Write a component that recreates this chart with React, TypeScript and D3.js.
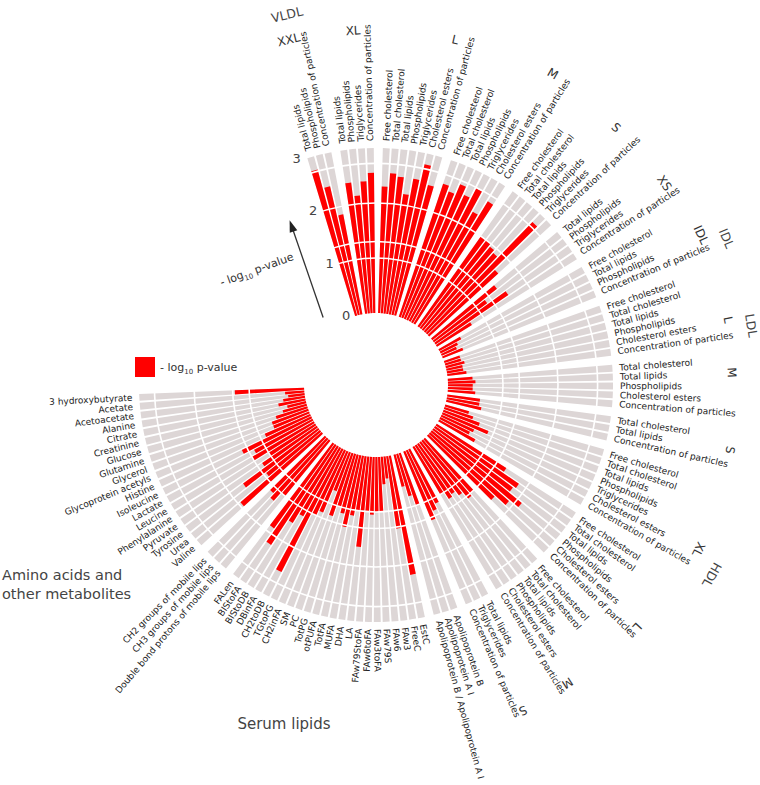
import React, { useEffect, useRef } from "react";
import * as d3 from "d3";

// ---- data: -log10 p-values, clockwise from the top ----
const vldlXXLLabels = ["Total lipids", "Phospholipids", "Concentration of particles"];
const vldlXXLValues = [2.75, 2.4, 1.85];
const vldlXLLabels = ["Total lipids", "Phospholipids", "Triglycerides", "Concentration of particles"];
const vldlXLValues = [2.4, 2.15, 2.4, 2.55];
const vldlLLabels = ["Free cholesterol", "Total cholesterol", "Total lipids", "Phospholipids", "Triglycerides", "Cholesterol esters", "Concentration of particles"];
const vldlLValues = [2.3, 2.55, 2.5, 2.2, 2.5, 2.8, 2.45];
const vldlMLabels = ["Free cholesterol", "Total cholesterol", "Total lipids", "Phospholipids", "Triglycerides", "Cholesterol esters", "Concentration of particles"];
const vldlMValues = [2.55, 2.45, 2.65, 2.5, 2.7, 2.3, 2.6];
const vldlSLabels = ["Free cholesterol", "Total cholesterol", "Total lipids", "Phospholipids", "Triglycerides", "Concentration of particles"];
const vldlSValues = [2.0, 2.0, 1.95, 1.9, 2.8, 1.7];
const vldlXSLabels = ["Total lipids", "Phospholipids", "Triglycerides", "Concentration of particles"];
const vldlXSValues = [1.5, 1.2, 1.6, 0.75];
const idlLabels = ["Free cholesterol", "Total lipids", "Phospholipids", "Concentration of particles"];
const idlValues = [0.45, 0.35, 0.3, 0.4];
const ldlLLabels = ["Free cholesterol", "Total cholesterol", "Total lipids", "Phospholipids", "Cholesterol esters", "Concentration of particles"];
const ldlLValues = [0.3, 0.3, 0.35, 0.3, 0.3, 0.35];
const ldlMLabels = ["Total cholesterol", "Total lipids", "Phospholipids", "Cholesterol esters", "Concentration of particles"];
const ldlMValues = [0.45, 0.5, 0.45, 0.45, 0.5];
const ldlSLabels = ["Total cholesterol", "Total lipids", "Concentration of particles"];
const ldlSValues = [0.6, 0.6, 0.65];
const hdlXLLabels = ["Free cholesterol", "Total cholesterol", "Total lipids", "Phospholipids", "Triglycerides", "Cholesterol esters", "Concentration of particles"];
const hdlXLValues = [0.45, 0.55, 0.7, 0.9, 0.65, 0.6, 0.75];
const hdlLLabels = ["Free cholesterol", "Total cholesterol", "Total lipids", "Phospholipids", "Cholesterol esters", "Concentration of particles"];
const hdlLValues = [1.5, 1.85, 1.8, 2.1, 1.9, 1.65];
const hdlMLabels = ["Free cholesterol", "Total cholesterol", "Total lipids", "Phospholipids", "Cholesterol esters", "Concentration of particles"];
const hdlMValues = [1.3, 1.35, 1.2, 1.1, 1.15, 1.0];
const hdlSLabels = ["Total lipids", "Triglycerides", "Concentration of particles"];
const hdlSValues = [1.1, 1.2, 1.35];
const apoLabels = ["Apolipoprotein B", "Apolipoprotein A I", "Apolipoprotein B / Apolipoprotein A I"];
const apoValues = [1.0, 0.8, 0.6];
const serumLabels = ["EstC", "FreeC", "FAw3", "FAw6", "FAw79S", "FAw3toFA", "FAw6toFA", "FAw79StoFA", "LA", "DHA", "MUFA", "TotFA", "otPUFA", "TotPG", "PC", "SM", "CH2inFA", "TGtoPG", "CH2toDB", "DBinFA", "BIStoDB", "BIStoFA", "FALen"];
const serumValues = [2.2, 1.33, 0.4, 0.5, 1.0, 1.0, 1.05, 1.0, 1.65, 1.0, 1.1, 1.33, 1.1, 1.0, 1.2, 0.75, 1.2, 1.3, 2.5, 1.42, 1.62, 2.17, 1.89];
const mobileLabels = ["Double bond protons of mobile lips", "CH3 groups of mobile lips", "CH2 groups of mobile lips"];
const mobileValues = [1.3, 1.5, 1.4];
const aminoLabels = ["Valine", "Urea", "Tyrosine", "Pyruvate", "Phenylalanine", "Leucine", "Lactate", "Isoleucine", "Histine", "Glycoprotein acetyls", "Glycerol", "Glutamine", "Glucose", "Creatinine", "Citrate", "Alanine", "Acetoacetate", "Acetate", "3 hydroxybutyrate"];
const aminoValues = [1.95, 1.25, 1.7, 1.2, 1.0, 1.3, 1.2, 1.4, 0.9, 0.7, 0.7, 0.6, 0.45, 0.35, 0.5, 0.4, 0.3, 0.35, 1.26];

const ticks = [0, 1, 2, 3];
const rings = [1, 1.301, 2, 2.72];

const subgroups = [
  { major: "VLDL", name: "XXL", labels: vldlXXLLabels, values: vldlXXLValues },
  { major: "VLDL", name: "XL", labels: vldlXLLabels, values: vldlXLValues },
  { major: "VLDL", name: "L", labels: vldlLLabels, values: vldlLValues },
  { major: "VLDL", name: "M", labels: vldlMLabels, values: vldlMValues },
  { major: "VLDL", name: "S", labels: vldlSLabels, values: vldlSValues },
  { major: "VLDL", name: "XS", labels: vldlXSLabels, values: vldlXSValues },
  { major: "IDL", name: "IDL", labels: idlLabels, values: idlValues },
  { major: "LDL", name: "L", labels: ldlLLabels, values: ldlLValues },
  { major: "LDL", name: "M", labels: ldlMLabels, values: ldlMValues },
  { major: "LDL", name: "S", labels: ldlSLabels, values: ldlSValues },
  { major: "HDL", name: "XL", labels: hdlXLLabels, values: hdlXLValues },
  { major: "HDL", name: "L", labels: hdlLLabels, values: hdlLValues },
  { major: "HDL", name: "M", labels: hdlMLabels, values: hdlMValues },
  { major: "HDL", name: "S", labels: hdlSLabels, values: hdlSValues },
  { major: "Apo", name: "", labels: apoLabels, values: apoValues },
  { major: "Serum", name: "", labels: serumLabels, values: serumValues },
  { major: "Mobile", name: "", labels: mobileLabels, values: mobileValues },
  { major: "Amino", name: "", labels: aminoLabels, values: aminoValues },
];

// label placement for sub group / group names: [angle deg, radius]
const subLabelPlace: Record<string, [number, number]> = {
  "VLDL XXL": [-14.2, 356],
  "VLDL XL": [-3.7, 355],
  "VLDL L": [12.9, 354],
  "VLDL M": [29.6, 358],
  "VLDL S": [43, 352],
  "VLDL XS": [55, 352],
  "IDL IDL": [65.2, 358],
  "LDL L": [79.5, 358],
  "LDL M": [88, 356],
  "LDL S": [100.4, 360],
  "HDL XL": [117, 362],
  "HDL L": [132.8, 356],
  "HDL M": [147.3, 354],
  "HDL S": [155.7, 357],
};
const majorLabelPlace: Record<string, [number, number]> = {
  VLDL: [-13.5, 381],
  IDL: [67.3, 380],
  LDL: [81, 380],
  HDL: [119.5, 386],
};

const W = 760;
const H = 785;
const CX = 376;
const CY = 385;
const FIRST_ANGLE = -16;
const LAST_ANGLE = 267;
const GAP = 0.8;

export default function App() {
  const ref = useRef<SVGSVGElement>(null);

  useEffect(() => {
    const svg = d3.select(ref.current);
    svg.selectAll("*").remove();

    // slot positions
    const bars: { label: string; value: number; pos: number; gi: number }[] = [];
    let k = 0;
    subgroups.forEach((g, gi) => {
      if (gi > 0) k += GAP;
      g.labels.forEach((label, i) => {
        bars.push({ label, value: g.values[i], pos: k, gi });
        k += 1;
      });
    });
    const lastPos = bars[bars.length - 1].pos;
    const angle = d3.scaleLinear().domain([0, lastPos]).range([FIRST_ANGLE, LAST_ANGLE]);
    const step = (LAST_ANGLE - FIRST_ANGLE) / lastPos;
    const barW = step * 0.78;
    const r = d3.scaleLinear().domain([0, 3]).range([72, 237]);
    const rad = (d: number) => (d * Math.PI) / 180;
    const polar = (a: number, rr: number): [number, number] => [
      CX + rr * Math.sin(rad(a)),
      CY - rr * Math.cos(rad(a)),
    ];

    const g = svg.append("g").attr("transform", `translate(${CX},${CY})`);

    const arc = d3.arc<any>();
    // gray background bars
    g.selectAll(".bg")
      .data(bars)
      .enter()
      .append("path")
      .attr("d", (d) =>
        arc({
          innerRadius: r(0),
          outerRadius: r(3),
          startAngle: rad(angle(d.pos) - barW / 2),
          endAngle: rad(angle(d.pos) + barW / 2),
        })
      )
      .attr("fill", "#ddd6d6");

    // red bars
    g.selectAll(".bar")
      .data(bars)
      .enter()
      .append("path")
      .attr("d", (d) =>
        arc({
          innerRadius: r(0),
          outerRadius: r(d.value),
          startAngle: rad(angle(d.pos) - barW / 2),
          endAngle: rad(angle(d.pos) + barW / 2),
        })
      )
      .attr("fill", "#ff0000");

    // white rings
    g.selectAll(".ring")
      .data(rings)
      .enter()
      .append("circle")
      .attr("r", (d) => r(d))
      .attr("fill", "none")
      .attr("stroke", "#fff")
      .attr("stroke-width", 1.6);

    // bar labels
    const labR = 244;
    svg
      .append("g")
      .selectAll("text")
      .data(bars)
      .enter()
      .append("text")
      .attr("transform", (d) => {
        const a = angle(d.pos);
        const [x, y] = polar(a, labR);
        const flip = a > 180;
        return `translate(${x},${y}) rotate(${flip ? a + 90 : a - 90})`;
      })
      .attr("text-anchor", (d) => (angle(d.pos) > 180 ? "end" : "start"))
      .attr("dominant-baseline", "central")
      .attr("font-family", "DejaVu Sans, sans-serif")
      .attr("font-size", 9)
      .attr("fill", "#222")
      .text((d) => d.label);

    // sub group labels
    subgroups.forEach((sg) => {
      const p = subLabelPlace[`${sg.major} ${sg.name}`];
      if (!p) return;
      const [x, y] = polar(p[0], p[1]);
      svg
        .append("text")
        .attr("transform", `translate(${x},${y}) rotate(${p[0]})`)
        .attr("text-anchor", "middle")
        .attr("dominant-baseline", "central")
        .attr("font-family", "DejaVu Sans, sans-serif")
        .attr("font-size", 12)
        .attr("fill", "#333")
        .text(sg.name);
    });
    Object.entries(majorLabelPlace).forEach(([name, p]) => {
      const [x, y] = polar(p[0], p[1]);
      svg
        .append("text")
        .attr("transform", `translate(${x},${y}) rotate(${p[0]})`)
        .attr("text-anchor", "middle")
        .attr("dominant-baseline", "central")
        .attr("font-family", "DejaVu Sans, sans-serif")
        .attr("font-size", 12.5)
        .attr("fill", "#444")
        .text(name);
    });

    // big group titles
    svg
      .append("text")
      .attr("x", 284)
      .attr("y", 729)
      .attr("text-anchor", "middle")
      .attr("font-family", "DejaVu Sans, sans-serif")
      .attr("font-size", 15)
      .attr("fill", "#444")
      .text("Serum lipids");
    const amino = svg
      .append("text")
      .attr("font-family", "DejaVu Sans, sans-serif")
      .attr("font-size", 14.5)
      .attr("fill", "#444");
    amino.append("tspan").attr("x", 2).attr("y", 580).text("Amino acids and");
    amino.append("tspan").attr("x", 2).attr("y", 599).text("other metabolites");

    // helpers for lines parallel to a radial direction
    const along = (aDeg: number, dist: number, perp: number) => {
      const ua = rad(aDeg);
      return [
        CX + Math.sin(ua) * dist - Math.cos(ua) * perp,
        CY - Math.cos(ua) * dist - Math.sin(ua) * perp,
      ];
    };

    // radial axis tick labels
    svg
      .append("g")
      .selectAll("text")
      .data(ticks)
      .enter()
      .append("text")
      .attr("x", (d) => along(-17.5, r(d) + 3, 7.6)[0])
      .attr("y", (d) => along(-17.5, r(d) + 3, 7.6)[1])
      .attr("text-anchor", "middle")
      .attr("dominant-baseline", "central")
      .attr("font-family", "DejaVu Sans, sans-serif")
      .attr("font-size", 13)
      .attr("fill", "#444")
      .text((d) => d);

    // arrow
    const p0 = along(-19, 81, 28);
    const p1 = along(-19, 176, 28);
    const tip = along(-19, 184, 28);
    svg
      .append("line")
      .attr("x1", p0[0])
      .attr("y1", p0[1])
      .attr("x2", p1[0])
      .attr("y2", p1[1])
      .attr("stroke", "#333")
      .attr("stroke-width", 1.3);
    const h1 = along(-19, 172, 24);
    const h2 = along(-19, 172, 32);
    svg
      .append("path")
      .attr("d", `M${tip[0]},${tip[1]}L${h1[0]},${h1[1]}L${h2[0]},${h2[1]}Z`)
      .attr("fill", "#222");

    const axisTitle = svg
      .append("text")
      .attr("transform", "translate(258,273) rotate(-20)")
      .attr("text-anchor", "middle")
      .attr("font-family", "DejaVu Sans, sans-serif")
      .attr("font-size", 11)
      .attr("fill", "#333");
    axisTitle.append("tspan").text("- log");
    axisTitle.append("tspan").attr("font-size", 7).attr("dy", 3).text("10");
    axisTitle.append("tspan").attr("dy", -3).text(" p-value");

    // legend
    svg
      .append("rect")
      .attr("x", 135)
      .attr("y", 357)
      .attr("width", 20)
      .attr("height", 20)
      .attr("fill", "#ff0000");
    const leg = svg
      .append("text")
      .attr("x", 160)
      .attr("y", 371)
      .attr("font-family", "DejaVu Sans, sans-serif")
      .attr("font-size", 11)
      .attr("fill", "#333");
    leg.append("tspan").text("- log");
    leg.append("tspan").attr("font-size", 7).attr("dy", 3).text("10");
    leg.append("tspan").attr("dy", -3).text(" p-value");
  }, []);

  return (
    <div style={{ position: "absolute", left: 0, top: 0, background: "#fff" }}>
      <svg ref={ref} width={W} height={H} />
    </div>
  );
}
